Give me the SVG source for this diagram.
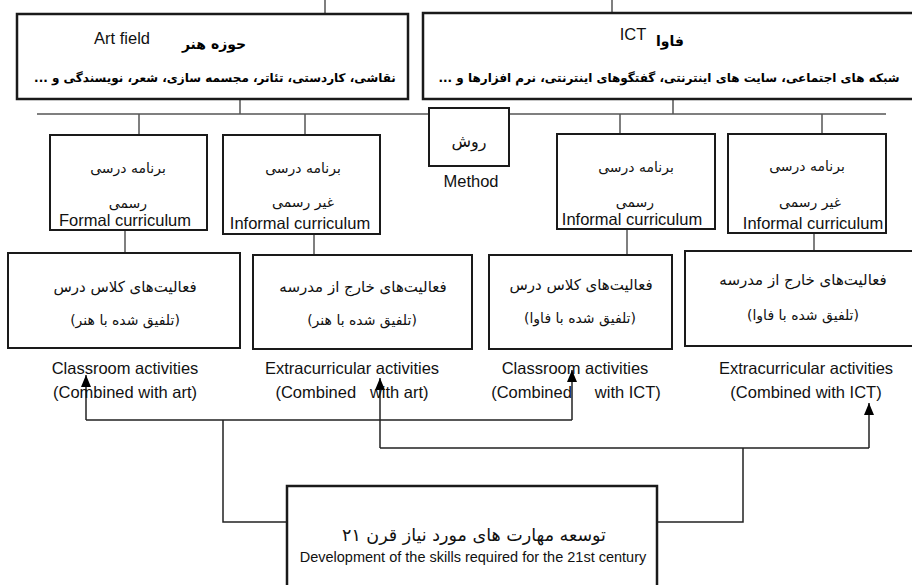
<svg xmlns="http://www.w3.org/2000/svg" width="912" height="585" viewBox="0 0 912 585">
<defs>
<marker id="arr" viewBox="0 0 12 10" refX="12" refY="5" markerWidth="12" markerHeight="10" markerUnits="userSpaceOnUse" orient="auto">
<path d="M0,0 L12,5 L0,10 z" fill="#000"/>
</marker>
<style>
.box{fill:#fff;stroke:#1a1a1a;stroke-width:2}
.bigbox{fill:#fff;stroke:#1a1a1a;stroke-width:2.5}
.ln{fill:none;stroke:#555;stroke-width:1.5}
.ar{fill:none;stroke:#222;stroke-width:1.5}
.en{font-family:"Liberation Sans",Arial,sans-serif;font-size:16.5px;fill:#111;text-anchor:middle}
.fa{font-family:"DejaVu Sans","Noto Sans",sans-serif;font-size:14px;fill:#111;text-anchor:middle;direction:rtl}
.fab{font-family:"DejaVu Sans","Noto Sans",sans-serif;font-size:14px;font-weight:bold;fill:#000;text-anchor:middle;direction:rtl}
</style>
</defs>
<rect width="912" height="585" fill="#fff"/>
<g id="connectors">
<path class="ln" d="M325,0 V14 M612,0 V13 M240,99 V114 M673,99 V114 M37,114 H429 M509,114 H886 M139,114 V135 M305,114 V135 M620,114 V134 M822,114 V134 M125,230 V253 M314,234 V255 M627,229 V255 M814,233 V251"/>
<path class="ar" d="M86,420 H572 M223,420 V522 H287 M380,448 H869 M743,448 V522 H657"/>
<path class="ar" d="M86,420 V375" marker-end="url(#arr)"/>
<path class="ar" d="M572,420 V370" marker-end="url(#arr)"/>
<path class="ar" d="M380,448 V378" marker-end="url(#arr)"/>
<path class="ar" d="M869,448 V403" marker-end="url(#arr)"/>
</g>
<g id="art">
<rect class="bigbox" x="17" y="14" width="391" height="85"/>
<text class="en" x="122" y="44">Art field</text>
<text class="fab" x="214" y="49">حوزه هنر</text>
<text class="fab" x="215" y="82" style="font-size:12px">نقاشی، کاردستی، تئاتر، مجسمه سازی، شعر، نویسندگی و ...</text>
</g>
<g id="ict">
<rect class="bigbox" x="423" y="13" width="500" height="86"/>
<text class="en" x="633" y="40">ICT</text>
<text class="fab" x="670" y="46">فاوا</text>
<text class="fab" x="669" y="82" style="font-size:12px">شبکه های اجتماعی، سایت های اینترنتی، گفتگوهای اینترنتی، نرم افزارها و ...</text>
</g>
<g id="method">
<rect class="box" x="429" y="108" width="80" height="58"/>
<text class="fa" x="469" y="147" style="font-size:16px">روش</text>
<text class="en" x="471" y="187">Method</text>
</g>
<g id="formal1">
<rect class="box" x="50" y="135" width="157" height="95"/>
<text class="fa" x="128" y="173">برنامه درسی</text>
<text class="fa" x="128" y="208">رسمی</text>
<text class="en" x="125" y="226">Formal curriculum</text>
</g>
<g id="informal1">
<rect class="box" x="223" y="135" width="157" height="99"/>
<text class="fa" x="303" y="173">برنامه درسی</text>
<text class="fa" x="303" y="207">غیر رسمی</text>
<text class="en" x="300" y="229">Informal curriculum</text>
</g>
<g id="formal2">
<rect class="box" x="557" y="134" width="158" height="95"/>
<text class="fa" x="636" y="172">برنامه درسی</text>
<text class="fa" x="635" y="207">رسمی</text>
<text class="en" x="632" y="225">Informal curriculum</text>
</g>
<g id="informal2">
<rect class="box" x="728" y="134" width="158" height="99"/>
<text class="fa" x="807" y="171">برنامه درسی</text>
<text class="fa" x="810" y="207">غیر رسمی</text>
<text class="en" x="813" y="229">Informal curriculum</text>
</g>
<g id="act1">
<rect class="box" x="8" y="253" width="232" height="95"/>
<text class="fa" x="125" y="292" style="font-size:15px">فعالیت‌های کلاس درس</text>
<text class="fa" x="125" y="325">(تلفیق شده با هنر)</text>
<text class="en" x="125" y="374">Classroom activities</text>
<text class="en" x="125" y="398">(Combined with art)</text>
</g>
<g id="act2">
<rect class="box" x="253" y="255" width="219" height="94"/>
<text class="fa" x="363" y="292" style="font-size:15px">فعالیت‌های خارج از مدرسه</text>
<text class="fa" x="362" y="325">(تلفیق شده با هنر)</text>
<text class="en" x="352" y="374">Extracurricular activities</text>
<text class="en" x="352" y="398" xml:space="preserve">(Combined   with art)</text>
</g>
<g id="act3">
<rect class="box" x="489" y="255" width="183" height="94"/>
<text class="fa" x="581" y="290" style="font-size:15px">فعالیت‌های کلاس درس</text>
<text class="fa" x="580" y="323">(تلفیق شده با فاوا)</text>
<text class="en" x="575" y="374">Classroom activities</text>
<text class="en" x="576" y="398" xml:space="preserve">(Combined     with ICT)</text>
</g>
<g id="act4">
<rect class="box" x="685" y="251" width="235" height="95"/>
<text class="fa" x="803" y="285" style="font-size:15px">فعالیت‌های خارج از مدرسه</text>
<text class="fa" x="803" y="320">(تلفیق شده با فاوا)</text>
<text class="en" x="806" y="374">Extracurricular activities</text>
<text class="en" x="806" y="398">(Combined with ICT)</text>
</g>
<g id="skills">
<rect class="bigbox" x="287" y="486" width="370" height="110"/>
<text class="fa" x="474" y="541" style="font-size:17.5px">توسعه مهارت های مورد نیاز قرن ۲۱</text>
<text class="en" x="473" y="562" style="font-size:14.5px">Development of the skills required for the 21st century</text>
</g>
</svg>
